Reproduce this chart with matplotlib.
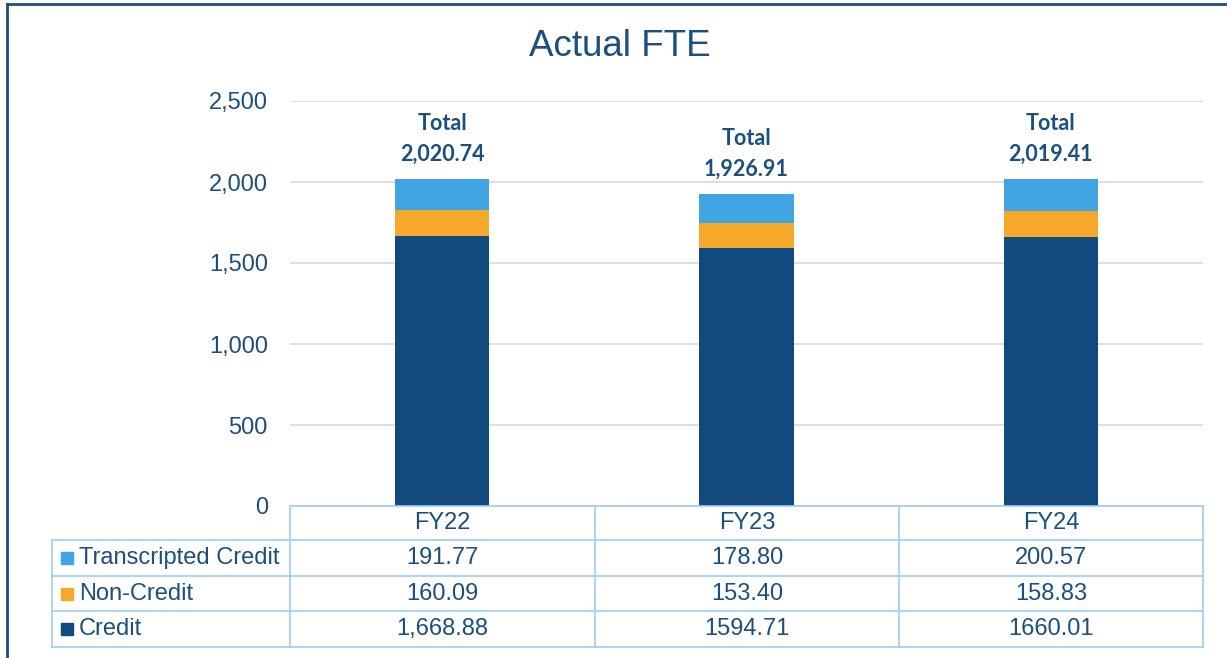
from matplotlib import pyplot as plt
from matplotlib.lines import Line2D
from matplotlib.patches import Rectangle

# data
years = ['FY22', 'FY23', 'FY24']
series = ['Transcripted Credit', 'Non-Credit', 'Credit']
credit = [1668.88, 1594.71, 1660.01]
non_credit = [160.09, 153.40, 158.83]
transcripted = [191.77, 178.80, 200.57]
# table text exactly as shown (mixed comma style in the source)
table_text = [
    ['191.77', '178.80', '200.57'],
    ['160.09', '153.40', '158.83'],
    ['1,668.88', '1594.71', '1660.01'],
]

colors = {'Credit': '#114A7F', 'Non-Credit': '#F5A82A', 'Transcripted Credit': '#42A5E3'}
text_col = '#1B4F7F'
grid_col = '#D9D9D9'
table_col = '#9CCFF0'

W, H = 1227, 658
fig = plt.figure(figsize=(W / 100, H / 100), dpi=100)


def fx(x):
    return x / W


def fy(y):
    return 1 - y / H


# plot area in pixels: x 290..1203, y 101..506
ax = fig.add_axes([fx(290), fy(506), fx(1203) - fx(290), fy(101) - fy(506)])

x = range(len(years))
bw = 0.31
ax.bar(x, credit, bw, color=colors['Credit'], zorder=3)
ax.bar(x, non_credit, bw, bottom=credit, color=colors['Non-Credit'], zorder=3)
bottoms = [c + n for c, n in zip(credit, non_credit)]
ax.bar(x, transcripted, bw, bottom=bottoms, color=colors['Transcripted Credit'], zorder=3)

totals = [b + t for b, t in zip(bottoms, transcripted)]
for i, tot in enumerate(totals):
    ax.annotate('Total\n{:,.2f}'.format(tot), (i, tot), xytext=(0, 10),
                textcoords='offset points', ha='center', va='bottom',
                fontsize=15.5, fontweight='bold', family='Lato', color=text_col,
                linespacing=1.6)

ax.set_xlim(-0.5, 2.5)
ax.set_ylim(0, 2500)
ax.set_yticks([0, 500, 1000, 1500, 2000, 2500])
ax.set_yticklabels(['{:,}'.format(v) for v in [0, 500, 1000, 1500, 2000, 2500]],
                   fontsize=17, family='Liberation Sans', color=text_col)
ax.tick_params(axis='y', length=0, pad=16)
ax.set_xticks([])
for s in ax.spines.values():
    s.set_visible(False)
ax.yaxis.grid(True, color=grid_col, linewidth=1.2, zorder=0)
ax.set_axisbelow(True)

# title
fig.text(fx(620), fy(47), 'Actual FTE', ha='center', va='center', fontsize=26.5,
         family='Liberation Sans', color=text_col)

# data table drawn below the axes
col_edges = [290, 595, 899, 1203]
row_edges = [506, 540, 576, 611, 647]
lbl_left = 52


def hline(x0, x1, y):
    fig.add_artist(Line2D([fx(x0), fx(x1)], [fy(y), fy(y)], color=table_col, lw=1.2))


def vline(x, y0, y1):
    fig.add_artist(Line2D([fx(x), fx(x)], [fy(y0), fy(y1)], color=table_col, lw=1.2))


hline(col_edges[0], col_edges[-1], row_edges[0])
for y in row_edges[1:]:
    hline(lbl_left, col_edges[-1], y)
vline(lbl_left, row_edges[1], row_edges[-1])
for cx in col_edges:
    vline(cx, row_edges[0], row_edges[-1])

for j, yr in enumerate(years):
    cx = (col_edges[j] + col_edges[j + 1]) / 2
    cy = (row_edges[0] + row_edges[1]) / 2
    fig.text(fx(cx), fy(cy), yr, ha='center', va='center', fontsize=17,
             family='Liberation Sans', color=text_col)

for r, name in enumerate(series):
    cy = (row_edges[r + 1] + row_edges[r + 2]) / 2
    fig.add_artist(Rectangle((fx(61), fy(cy + 6)), fx(12), 12 / H,
                             color=colors[name], transform=fig.transFigure))
    fig.text(fx(79), fy(cy), name, ha='left', va='center', fontsize=17,
             family='Liberation Sans', color=text_col)
    for j in range(len(years)):
        cx = (col_edges[j] + col_edges[j + 1]) / 2
        fig.text(fx(cx), fy(cy), table_text[r][j], ha='center', va='center',
                 fontsize=17, family='Liberation Sans', color=text_col)

# outer frame (left and top edges visible)
fig.add_artist(Line2D([fx(7), fx(7)], [0, fy(4)], color='#1F4E79', lw=2))
fig.add_artist(Line2D([fx(7), 1], [fy(4), fy(4)], color='#1F4E79', lw=2))

fig.savefig('out.png', dpi=100)
